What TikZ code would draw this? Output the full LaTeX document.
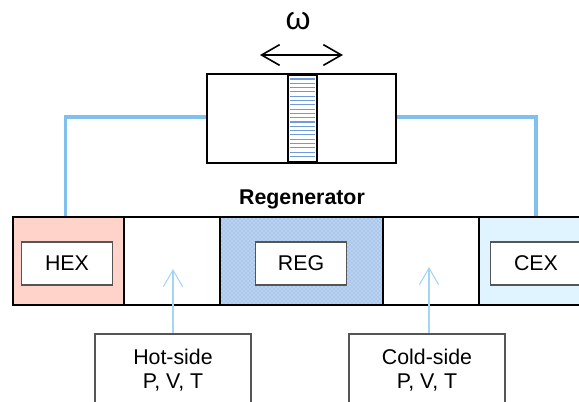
\documentclass[tikz,border=0pt]{standalone}
\usepackage{fontspec}
\setmainfont{Liberation Sans}
\usetikzlibrary{arrows.meta,patterns}
\definecolor{pipeblue}{HTML}{7FC1EC}
\definecolor{probeblue}{HTML}{A5D5F5}
\definecolor{hotred}{HTML}{FFD2CA}
\definecolor{coldblue}{HTML}{DFF4FF}
\definecolor{regblue}{HTML}{A9C6EC}
\definecolor{meshblue}{HTML}{6F9BD6}
\definecolor{boxgrey}{HTML}{555555}
\tikzset{
    cell/.style={draw=black, line width=1.5pt, inner sep=0pt, outer sep=0pt, minimum height=66pt},
    label/.style={draw=boxgrey, line width=1.1pt, fill=white, inner sep=0pt, minimum width=68pt, minimum height=32pt, font=\fontsize{16}{18}\selectfont},
    probe/.style={draw=boxgrey, line width=1.1pt, fill=white, inner sep=0pt, minimum width=117pt, minimum height=54pt, align=center, font=\fontsize{16}{18}\selectfont},
    pipe/.style={draw=pipeblue, line width=2.6pt},
    probearrow/.style={draw=probeblue, line width=0.8pt, -{Straight Barb[length=12.5pt,width=14.5pt]}},
}
\begin{document}
\begin{tikzpicture}[x=0.75pt, y=-0.75pt]
        \useasboundingbox (0,0) rectangle (579,401);
        \clip (0,0) rectangle (579,401);
        % pipes first, the boxes sit on top
        \coordinate (hotpipe) at (65.5,217);
        \coordinate (coldpipe) at (536,217);
        \node[draw=black, line width=1.1pt, inner sep=0pt, minimum width=141.5pt, minimum height=66.5pt] (cylinder) at (301.5,118.5) {};
        \draw[pipe] (cylinder.west |- 0,117) -| (hotpipe);
        \draw[pipe] (cylinder.east |- 0,117) -| (coldpipe);
        % piston
        \node[draw=black, line width=1.6pt, inner sep=0pt, minimum width=21.5pt, minimum height=65.5pt] (piston) at (302.5,118.5) {};
        \foreach \y in {79,83.3,...,160}
            \draw[meshblue, line width=0.8pt] (290,\y) -- (315,\y);
        \coordinate (moveleft) at (260,55);
        \coordinate (moveright) at (343,55);
        \draw[{Straight Barb[length=13.5pt,width=15.5pt]}-{Straight Barb[length=13.5pt,width=15.5pt]}, line width=1.2pt] (moveleft) -- (moveright);
        \node[font=\fontsize{24}{24}\selectfont] (omega) at (298,21) {ω};
        \node[font=\bfseries\fontsize{16}{18}\selectfont] (regtitle) at (302,199) {Regenerator};
        % regenerator row
        \node[cell, fill=hotred, minimum width=83.25pt] (hexcell) at (68.5,261) {};
        \node[cell, minimum width=72pt] (hotcell) at (172,261) {};
        \node[cell, preaction={fill=regblue}, pattern=crosshatch dots, pattern color=white, minimum width=122.25pt] (regcell) at (301.5,261) {};
        \node[cell, minimum width=72pt] (coldcell) at (431,261) {};
        \node[cell, fill=coldblue, minimum width=85.5pt] (cexcell) at (536,261) {};
        \node[label] (hexbox) at (67,263.5) {HEX};
        \node[label] (regbox) at (301,263.5) {REG};
        \node[label] (cexbox) at (536,263.5) {CEX};
        % probes
        \node[probe] (hotprobe) at (173,370) {Hot-side\\P, V, T};
        \node[probe] (coldprobe) at (427,370) {Cold-side\\P, V, T};
        \coordinate (hottip) at (173,269);
        \coordinate (coldtip) at (429,267);
        \draw[probearrow] (hotprobe.north) -- (hottip);
        \draw[probearrow] (coldprobe.north -| coldtip) -- (coldtip);
    \end{tikzpicture}
\end{document}
